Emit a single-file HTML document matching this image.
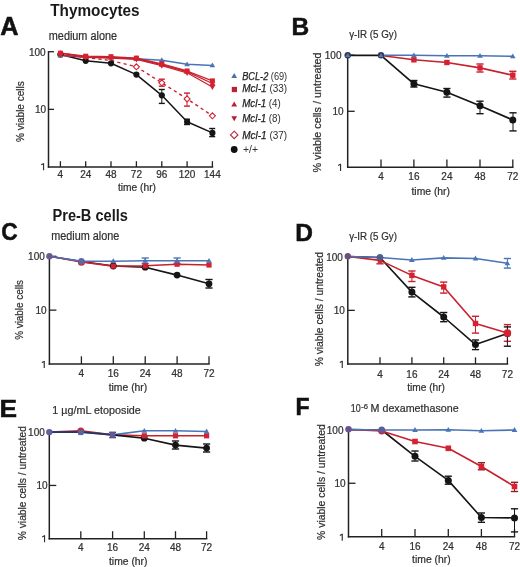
<!DOCTYPE html>
<html><head><meta charset="utf-8"><style>
html,body{margin:0;padding:0;background:#fff;}
svg{display:block;will-change:transform;font-family:"Liberation Sans", sans-serif;}
text.s{stroke:#303030;stroke-width:0.22px;}
</style></head><body>
<svg width="520" height="567" viewBox="0 0 520 567">
<rect width="520" height="567" fill="#fff"/>
<text x="0.2" y="34.7" font-size="25.3" text-anchor="start" font-weight="bold" font-style="normal" fill="#111" stroke="#111" stroke-width="0.5">A</text>
<text x="50.2" y="15.8" font-size="16" text-anchor="start" font-weight="bold" font-style="normal" fill="#1a1a1a" textLength="89.4" lengthAdjust="spacingAndGlyphs">Thymocytes</text>
<text class="s" x="48.8" y="39.9" font-size="12" text-anchor="start" font-weight="normal" font-style="normal" fill="#303030" textLength="68.2" lengthAdjust="spacingAndGlyphs">medium alone</text>
<text x="291.4" y="34.6" font-size="24.5" text-anchor="start" font-weight="bold" font-style="normal" fill="#111" stroke="#111" stroke-width="0.5">B</text>
<text class="s" x="349.2" y="37.7" font-size="10.5" text-anchor="start" font-weight="normal" font-style="normal" fill="#303030" textLength="47.7" lengthAdjust="spacingAndGlyphs">γ-IR (5 Gy)</text>
<text x="0" y="0" font-size="24.5" text-anchor="start" font-weight="bold" font-style="normal" fill="#111" stroke="#111" stroke-width="0.5" transform="translate(1.2,240.0) scale(0.93,1)">C</text>
<text x="52.5" y="221" font-size="16" text-anchor="start" font-weight="bold" font-style="normal" fill="#1a1a1a" textLength="75.4" lengthAdjust="spacingAndGlyphs">Pre-B cells</text>
<text class="s" x="51.2" y="240.4" font-size="12" text-anchor="start" font-weight="normal" font-style="normal" fill="#303030" textLength="68.1" lengthAdjust="spacingAndGlyphs">medium alone</text>
<text x="295.2" y="240.6" font-size="24.5" text-anchor="start" font-weight="bold" font-style="normal" fill="#111" stroke="#111" stroke-width="0.5">D</text>
<text class="s" x="349.2" y="239.6" font-size="10.5" text-anchor="start" font-weight="normal" font-style="normal" fill="#303030" textLength="47.7" lengthAdjust="spacingAndGlyphs">γ-IR (5 Gy)</text>
<text x="0" y="0" font-size="23.5" text-anchor="start" font-weight="bold" font-style="normal" fill="#111" stroke="#111" stroke-width="0.5" transform="translate(-0.6,416.6) scale(1.12,1)">E</text>
<text class="s" x="52.3" y="414" font-size="10.5" text-anchor="start" font-weight="normal" font-style="normal" fill="#303030" textLength="88.5" lengthAdjust="spacingAndGlyphs">1 µg/mL etoposide</text>
<text x="295.5" y="414.9" font-size="23" text-anchor="start" font-weight="bold" font-style="normal" fill="#111" stroke="#111" stroke-width="0.5">F</text>
<text class="s" x="350.8" y="412.3" font-size="10.5" text-anchor="start" font-weight="normal" font-style="normal" fill="#303030" textLength="9.9" lengthAdjust="spacingAndGlyphs">10</text>
<text class="s" x="361.2" y="408.5" font-size="8" text-anchor="start" font-weight="normal" font-style="normal" fill="#303030" textLength="6.8" lengthAdjust="spacingAndGlyphs">-6</text>
<text class="s" x="370.6" y="412.3" font-size="10.5" text-anchor="start" font-weight="normal" font-style="normal" fill="#303030" textLength="88" lengthAdjust="spacingAndGlyphs">M dexamethasone</text>
<line x1="48.50" y1="51.00" x2="48.50" y2="167.70" stroke="#222" stroke-width="1.5"/>
<line x1="47.80" y1="167.00" x2="213.20" y2="167.00" stroke="#222" stroke-width="1.5"/>
<line x1="48.50" y1="51.70" x2="54.00" y2="51.70" stroke="#222" stroke-width="1.3"/>
<line x1="48.50" y1="109.35" x2="54.00" y2="109.35" stroke="#222" stroke-width="1.3"/>
<line x1="60.40" y1="161.20" x2="60.40" y2="167.00" stroke="#222" stroke-width="1.3"/>
<line x1="85.70" y1="161.20" x2="85.70" y2="167.00" stroke="#222" stroke-width="1.3"/>
<line x1="111.00" y1="161.20" x2="111.00" y2="167.00" stroke="#222" stroke-width="1.3"/>
<line x1="136.40" y1="161.20" x2="136.40" y2="167.00" stroke="#222" stroke-width="1.3"/>
<line x1="161.80" y1="161.20" x2="161.80" y2="167.00" stroke="#222" stroke-width="1.3"/>
<line x1="187.10" y1="161.20" x2="187.10" y2="167.00" stroke="#222" stroke-width="1.3"/>
<line x1="212.40" y1="161.20" x2="212.40" y2="167.00" stroke="#222" stroke-width="1.3"/>
<text class="s" x="60.4" y="177.5" font-size="10" text-anchor="middle" font-weight="normal" font-style="normal" fill="#303030">4</text>
<text class="s" x="85.7" y="177.5" font-size="10" text-anchor="middle" font-weight="normal" font-style="normal" fill="#303030">24</text>
<text class="s" x="111.0" y="177.5" font-size="10" text-anchor="middle" font-weight="normal" font-style="normal" fill="#303030">48</text>
<text class="s" x="136.4" y="177.5" font-size="10" text-anchor="middle" font-weight="normal" font-style="normal" fill="#303030">72</text>
<text class="s" x="161.8" y="177.5" font-size="10" text-anchor="middle" font-weight="normal" font-style="normal" fill="#303030">96</text>
<text class="s" x="187.1" y="177.5" font-size="10" text-anchor="middle" font-weight="normal" font-style="normal" fill="#303030">120</text>
<text class="s" x="212.4" y="177.5" font-size="10" text-anchor="middle" font-weight="normal" font-style="normal" fill="#303030">144</text>
<text class="s" x="45.6" y="55.7" font-size="10" text-anchor="end" font-weight="normal" font-style="normal" fill="#303030">100</text>
<text class="s" x="46.0" y="113.35" font-size="10" text-anchor="end" font-weight="normal" font-style="normal" fill="#303030">10</text>
<path d="M43.55,163.20 L43.55,170.20 M43.85,163.40 L41.15,164.80" stroke="#303030" stroke-width="1.15" fill="none"/>
<text class="s" x="0" y="0" font-size="10" text-anchor="middle" font-weight="normal" font-style="normal" fill="#303030" textLength="60.8" lengthAdjust="spacingAndGlyphs" transform="translate(23.8,111.6) rotate(-90)">% viable cells</text>
<text class="s" x="117.9" y="190.7" font-size="10" text-anchor="start" font-weight="normal" font-style="normal" fill="#303030" textLength="38.1" lengthAdjust="spacingAndGlyphs">time (hr)</text>
<polyline points="60.4,54.5 85.7,60.8 111.0,63.3 136.4,74.6 161.8,95.3 187.1,121.8 212.4,132.9" fill="none" stroke="#151515" stroke-width="1.5" stroke-linejoin="round"/>
<polyline points="60.4,53.6 85.7,57.5 111.0,60.5 136.4,66.8 161.8,82.8 187.1,98.9 212.4,115.8" fill="none" stroke="#c8202e" stroke-width="1.4" stroke-linejoin="round" stroke-dasharray="3.2,3.2"/>
<polyline points="60.4,55.6 85.7,57.0 111.0,57.5 136.4,58.7 161.8,60.2 187.1,64.3 212.4,65.4" fill="none" stroke="#4a74b6" stroke-width="1.5" stroke-linejoin="round"/>
<polyline points="60.4,53.2 85.7,56.2 111.0,56.7 136.4,58.1 161.8,63.8 187.1,71.0 212.4,80.9" fill="none" stroke="#c8202e" stroke-width="1.3" stroke-linejoin="round"/>
<polyline points="60.4,53.0 85.7,56.8 111.0,57.3 136.4,58.7 161.8,64.7 187.1,71.7 212.4,83.5" fill="none" stroke="#c8202e" stroke-width="1.3" stroke-linejoin="round"/>
<polyline points="60.4,55.0 85.7,57.4 111.0,58.0 136.4,59.3 161.8,65.6 187.1,72.8 212.4,87.0" fill="none" stroke="#c8202e" stroke-width="1.3" stroke-linejoin="round"/>
<line x1="161.80" y1="89.50" x2="161.80" y2="103.40" stroke="#151515" stroke-width="1.0"/>
<line x1="158.80" y1="89.50" x2="164.80" y2="89.50" stroke="#151515" stroke-width="1.4"/>
<line x1="158.80" y1="103.40" x2="164.80" y2="103.40" stroke="#151515" stroke-width="1.4"/>
<line x1="187.00" y1="119.20" x2="187.00" y2="124.50" stroke="#151515" stroke-width="1.0"/>
<line x1="184.00" y1="119.20" x2="190.00" y2="119.20" stroke="#151515" stroke-width="1.4"/>
<line x1="184.00" y1="124.50" x2="190.00" y2="124.50" stroke="#151515" stroke-width="1.4"/>
<line x1="212.20" y1="128.50" x2="212.20" y2="136.60" stroke="#151515" stroke-width="1.0"/>
<line x1="209.20" y1="128.50" x2="215.20" y2="128.50" stroke="#151515" stroke-width="1.4"/>
<line x1="209.20" y1="136.60" x2="215.20" y2="136.60" stroke="#151515" stroke-width="1.4"/>
<line x1="161.80" y1="79.20" x2="161.80" y2="86.20" stroke="#c8202e" stroke-width="1.0"/>
<line x1="158.80" y1="79.20" x2="164.80" y2="79.20" stroke="#c8202e" stroke-width="1.4"/>
<line x1="158.80" y1="86.20" x2="164.80" y2="86.20" stroke="#c8202e" stroke-width="1.4"/>
<line x1="187.00" y1="93.10" x2="187.00" y2="106.10" stroke="#c8202e" stroke-width="1.0"/>
<line x1="184.00" y1="93.10" x2="190.00" y2="93.10" stroke="#c8202e" stroke-width="1.4"/>
<line x1="184.00" y1="106.10" x2="190.00" y2="106.10" stroke="#c8202e" stroke-width="1.4"/>
<polygon points="136.4,63.8 139.4,66.8 136.4,69.8 133.4,66.8" fill="#fff" stroke="#d62130" stroke-width="1.1"/>
<polygon points="161.8,79.8 164.8,82.8 161.8,85.8 158.8,82.8" fill="#fff" stroke="#d62130" stroke-width="1.1"/>
<polygon points="187.1,95.9 190.1,98.9 187.1,101.9 184.1,98.9" fill="#fff" stroke="#d62130" stroke-width="1.1"/>
<polygon points="212.4,112.8 215.4,115.8 212.4,118.8 209.4,115.8" fill="#fff" stroke="#d62130" stroke-width="1.1"/>
<circle cx="60.4" cy="54.5" r="3.1" fill="#151515"/>
<circle cx="85.7" cy="60.8" r="3.1" fill="#151515"/>
<circle cx="111.0" cy="63.3" r="3.1" fill="#151515"/>
<circle cx="136.4" cy="74.6" r="3.1" fill="#151515"/>
<circle cx="161.8" cy="95.3" r="3.1" fill="#151515"/>
<circle cx="187.1" cy="121.8" r="3.1" fill="#151515"/>
<circle cx="212.4" cy="132.9" r="3.1" fill="#151515"/>
<polygon points="60.4,52.7 57.6,57.5 63.2,57.5" fill="#4874b8"/>
<polygon points="85.7,54.1 82.9,58.9 88.5,58.9" fill="#4874b8"/>
<polygon points="111.0,54.6 108.2,59.4 113.8,59.4" fill="#4874b8"/>
<polygon points="136.4,55.8 133.6,60.6 139.2,60.6" fill="#4874b8"/>
<polygon points="161.8,57.3 159.0,62.1 164.6,62.1" fill="#4874b8"/>
<polygon points="187.1,61.4 184.3,66.2 189.9,66.2" fill="#4874b8"/>
<polygon points="212.4,62.5 209.6,67.3 215.2,67.3" fill="#4874b8"/>
<rect x="57.9" y="50.7" width="5.0" height="5.0" fill="#d62130"/>
<rect x="83.2" y="53.7" width="5.0" height="5.0" fill="#d62130"/>
<rect x="108.5" y="54.2" width="5.0" height="5.0" fill="#d62130"/>
<rect x="133.9" y="55.6" width="5.0" height="5.0" fill="#d62130"/>
<rect x="159.3" y="61.3" width="5.0" height="5.0" fill="#d62130"/>
<rect x="184.6" y="68.5" width="5.0" height="5.0" fill="#d62130"/>
<rect x="209.9" y="78.4" width="5.0" height="5.0" fill="#d62130"/>
<polygon points="60.4,49.9 57.4,55.1 63.4,55.1" fill="#d62130"/>
<polygon points="85.7,53.7 82.7,58.9 88.7,58.9" fill="#d62130"/>
<polygon points="111.0,54.2 108.0,59.4 114.0,59.4" fill="#d62130"/>
<polygon points="136.4,55.6 133.4,60.8 139.4,60.8" fill="#d62130"/>
<polygon points="161.8,61.6 158.8,66.8 164.8,66.8" fill="#d62130"/>
<polygon points="187.1,68.6 184.1,73.8 190.1,73.8" fill="#d62130"/>
<polygon points="212.4,80.4 209.4,85.6 215.4,85.6" fill="#d62130"/>
<polygon points="60.4,58.1 57.4,52.9 63.4,52.9" fill="#d62130"/>
<polygon points="85.7,60.5 82.7,55.3 88.7,55.3" fill="#d62130"/>
<polygon points="111.0,61.1 108.0,55.9 114.0,55.9" fill="#d62130"/>
<polygon points="136.4,62.4 133.4,57.2 139.4,57.2" fill="#d62130"/>
<polygon points="161.8,68.7 158.8,63.5 164.8,63.5" fill="#d62130"/>
<polygon points="187.1,75.9 184.1,70.7 190.1,70.7" fill="#d62130"/>
<polygon points="212.4,90.1 209.4,84.9 215.4,84.9" fill="#d62130"/>
<polygon points="234.2,72.9 231.3,77.9 237.1,77.9" fill="#4d6fab"/>
<rect x="231.8" y="86.9" width="5.2" height="5.2" fill="#be1f33"/>
<polygon points="234.2,101.4 231.3,106.4 237.1,106.4" fill="#be1f33"/>
<polygon points="234.2,121.2 231.3,116.2 237.1,116.2" fill="#b51f35"/>
<polygon points="234.2,131.2 237.9,134.9 234.2,138.6 230.5,134.9" fill="#fff" stroke="#b0283e" stroke-width="1.1"/>
<circle cx="234.2" cy="149.5" r="3.4" fill="#111"/>
<text x="242.2" y="79.8" font-size="10.3" fill="#303030" textLength="45" lengthAdjust="spacingAndGlyphs"><tspan font-style="italic" fill="#1c1c1c" stroke="#1c1c1c" stroke-width="0.25">BCL-2</tspan> (69)</text>
<text x="242.2" y="92.3" font-size="10.3" fill="#303030" textLength="45" lengthAdjust="spacingAndGlyphs"><tspan font-style="italic" fill="#1c1c1c" stroke="#1c1c1c" stroke-width="0.25">Mcl-1</tspan> (33)</text>
<text x="242.2" y="106.8" font-size="10.3" fill="#303030" textLength="38.6" lengthAdjust="spacingAndGlyphs"><tspan font-style="italic" fill="#1c1c1c" stroke="#1c1c1c" stroke-width="0.25">Mcl-1</tspan> (4)</text>
<text x="242.2" y="121.7" font-size="10.3" fill="#303030" textLength="38.6" lengthAdjust="spacingAndGlyphs"><tspan font-style="italic" fill="#1c1c1c" stroke="#1c1c1c" stroke-width="0.25">Mcl-1</tspan> (8)</text>
<text x="242.2" y="138.5" font-size="10.3" fill="#303030" textLength="45" lengthAdjust="spacingAndGlyphs"><tspan font-style="italic" fill="#1c1c1c" stroke="#1c1c1c" stroke-width="0.25">Mcl-1</tspan> (37)</text>
<text x="243" y="153.1" font-size="10.3" fill="#303030" textLength="15" lengthAdjust="spacingAndGlyphs">+/+</text>
<line x1="347.70" y1="54.60" x2="347.70" y2="168.00" stroke="#222" stroke-width="1.5"/>
<line x1="347.00" y1="167.30" x2="513.50" y2="167.30" stroke="#222" stroke-width="1.5"/>
<line x1="347.70" y1="55.30" x2="354.70" y2="55.30" stroke="#222" stroke-width="1.3"/>
<line x1="347.70" y1="111.30" x2="354.70" y2="111.30" stroke="#222" stroke-width="1.3"/>
<line x1="381.00" y1="159.40" x2="381.00" y2="167.30" stroke="#222" stroke-width="1.3"/>
<line x1="413.90" y1="159.40" x2="413.90" y2="167.30" stroke="#222" stroke-width="1.3"/>
<line x1="446.90" y1="159.40" x2="446.90" y2="167.30" stroke="#222" stroke-width="1.3"/>
<line x1="480.00" y1="159.40" x2="480.00" y2="167.30" stroke="#222" stroke-width="1.3"/>
<line x1="512.80" y1="159.40" x2="512.80" y2="167.30" stroke="#222" stroke-width="1.3"/>
<text class="s" x="381.0" y="180.3" font-size="10" text-anchor="middle" font-weight="normal" font-style="normal" fill="#303030">4</text>
<text class="s" x="413.9" y="180.3" font-size="10" text-anchor="middle" font-weight="normal" font-style="normal" fill="#303030">16</text>
<text class="s" x="446.9" y="180.3" font-size="10" text-anchor="middle" font-weight="normal" font-style="normal" fill="#303030">24</text>
<text class="s" x="480.0" y="180.3" font-size="10" text-anchor="middle" font-weight="normal" font-style="normal" fill="#303030">48</text>
<text class="s" x="512.8" y="180.3" font-size="10" text-anchor="middle" font-weight="normal" font-style="normal" fill="#303030">72</text>
<text class="s" x="341.5" y="59.3" font-size="10" text-anchor="end" font-weight="normal" font-style="normal" fill="#303030">100</text>
<text class="s" x="343.7" y="115.30000000000001" font-size="10" text-anchor="end" font-weight="normal" font-style="normal" fill="#303030">10</text>
<path d="M340.55,163.90 L340.55,170.90 M340.85,164.10 L338.15,165.50" stroke="#303030" stroke-width="1.15" fill="none"/>
<text class="s" x="0" y="0" font-size="11" text-anchor="middle" font-weight="normal" font-style="normal" fill="#303030" textLength="120.0" lengthAdjust="spacingAndGlyphs" transform="translate(320.5,112.5) rotate(-90)">% viable cells / untreated</text>
<text class="s" x="411.5" y="195.0" font-size="10.3" text-anchor="start" font-weight="normal" font-style="normal" fill="#303030" textLength="38.5" lengthAdjust="spacingAndGlyphs">time (hr)</text>
<polyline points="381.0,55.5 413.9,59.8 446.9,62.5 480.0,67.9 512.8,75.2" fill="none" stroke="#c8202e" stroke-width="1.6" stroke-linejoin="round"/>
<polyline points="381.0,55.3 413.9,55.3 446.9,55.8 480.0,55.8 512.8,56.3" fill="none" stroke="#4a74b6" stroke-width="1.6" stroke-linejoin="round"/>
<polyline points="347.7,55.3 381.0,55.3 413.9,83.8 446.9,92.3 480.0,105.8 512.8,120.0" fill="none" stroke="#151515" stroke-width="1.7" stroke-linejoin="round"/>
<line x1="413.90" y1="80.50" x2="413.90" y2="87.00" stroke="#151515" stroke-width="1.0"/>
<line x1="410.30" y1="80.50" x2="417.50" y2="80.50" stroke="#151515" stroke-width="1.4"/>
<line x1="410.30" y1="87.00" x2="417.50" y2="87.00" stroke="#151515" stroke-width="1.4"/>
<line x1="446.90" y1="88.50" x2="446.90" y2="97.10" stroke="#151515" stroke-width="1.0"/>
<line x1="443.30" y1="88.50" x2="450.50" y2="88.50" stroke="#151515" stroke-width="1.4"/>
<line x1="443.30" y1="97.10" x2="450.50" y2="97.10" stroke="#151515" stroke-width="1.4"/>
<line x1="480.00" y1="101.20" x2="480.00" y2="113.70" stroke="#151515" stroke-width="1.0"/>
<line x1="476.40" y1="101.20" x2="483.60" y2="101.20" stroke="#151515" stroke-width="1.4"/>
<line x1="476.40" y1="113.70" x2="483.60" y2="113.70" stroke="#151515" stroke-width="1.4"/>
<line x1="513.00" y1="112.80" x2="513.00" y2="130.90" stroke="#151515" stroke-width="1.0"/>
<line x1="509.40" y1="112.80" x2="516.60" y2="112.80" stroke="#151515" stroke-width="1.4"/>
<line x1="509.40" y1="130.90" x2="516.60" y2="130.90" stroke="#151515" stroke-width="1.4"/>
<line x1="480.00" y1="64.00" x2="480.00" y2="72.00" stroke="#c8202e" stroke-width="1.0"/>
<line x1="476.40" y1="64.00" x2="483.60" y2="64.00" stroke="#c8202e" stroke-width="1.4"/>
<line x1="476.40" y1="72.00" x2="483.60" y2="72.00" stroke="#c8202e" stroke-width="1.4"/>
<line x1="512.80" y1="71.30" x2="512.80" y2="79.00" stroke="#c8202e" stroke-width="1.0"/>
<line x1="509.20" y1="71.30" x2="516.40" y2="71.30" stroke="#c8202e" stroke-width="1.4"/>
<line x1="509.20" y1="79.00" x2="516.40" y2="79.00" stroke="#c8202e" stroke-width="1.4"/>
<circle cx="413.9" cy="83.8" r="3.5" fill="#151515"/>
<circle cx="446.9" cy="92.3" r="3.5" fill="#151515"/>
<circle cx="480.0" cy="105.8" r="3.5" fill="#151515"/>
<circle cx="512.8" cy="120.0" r="3.5" fill="#151515"/>
<rect x="411.2" y="57.1" width="5.4" height="5.4" fill="#d62130"/>
<rect x="444.2" y="59.8" width="5.4" height="5.4" fill="#d62130"/>
<rect x="477.3" y="65.2" width="5.4" height="5.4" fill="#d62130"/>
<rect x="510.1" y="72.5" width="5.4" height="5.4" fill="#d62130"/>
<polygon points="413.9,52.4 411.1,57.2 416.7,57.2" fill="#4874b8"/>
<polygon points="446.9,52.9 444.1,57.7 449.7,57.7" fill="#4874b8"/>
<polygon points="480.0,52.9 477.2,57.7 482.8,57.7" fill="#4874b8"/>
<polygon points="512.8,53.4 510.0,58.2 515.6,58.2" fill="#4874b8"/>
<circle cx="347.7" cy="55.3" r="3.2" fill="#2f3a5e"/>
<polygon points="347.7,52.9 345.4,56.9 350.0,56.9" fill="#5a78b0"/>
<circle cx="381.0" cy="55.3" r="3.2" fill="#2f3a5e"/>
<polygon points="381.0,52.9 378.7,56.9 383.3,56.9" fill="#5a78b0"/>
<line x1="49.40" y1="255.60" x2="49.40" y2="364.70" stroke="#222" stroke-width="1.5"/>
<line x1="48.70" y1="364.00" x2="209.70" y2="364.00" stroke="#222" stroke-width="1.5"/>
<line x1="49.40" y1="256.30" x2="56.40" y2="256.30" stroke="#222" stroke-width="1.3"/>
<line x1="49.40" y1="310.15" x2="56.40" y2="310.15" stroke="#222" stroke-width="1.3"/>
<line x1="81.40" y1="356.30" x2="81.40" y2="364.00" stroke="#222" stroke-width="1.3"/>
<line x1="113.30" y1="356.30" x2="113.30" y2="364.00" stroke="#222" stroke-width="1.3"/>
<line x1="145.20" y1="356.30" x2="145.20" y2="364.00" stroke="#222" stroke-width="1.3"/>
<line x1="177.10" y1="356.30" x2="177.10" y2="364.00" stroke="#222" stroke-width="1.3"/>
<line x1="209.00" y1="356.30" x2="209.00" y2="364.00" stroke="#222" stroke-width="1.3"/>
<text class="s" x="81.4" y="377.0" font-size="10" text-anchor="middle" font-weight="normal" font-style="normal" fill="#303030">4</text>
<text class="s" x="113.3" y="377.0" font-size="10" text-anchor="middle" font-weight="normal" font-style="normal" fill="#303030">16</text>
<text class="s" x="145.2" y="377.0" font-size="10" text-anchor="middle" font-weight="normal" font-style="normal" fill="#303030">24</text>
<text class="s" x="177.1" y="377.0" font-size="10" text-anchor="middle" font-weight="normal" font-style="normal" fill="#303030">48</text>
<text class="s" x="209.0" y="377.0" font-size="10" text-anchor="middle" font-weight="normal" font-style="normal" fill="#303030">72</text>
<text class="s" x="44.8" y="260.3" font-size="10" text-anchor="end" font-weight="normal" font-style="normal" fill="#303030">100</text>
<text class="s" x="46.6" y="314.15" font-size="10" text-anchor="end" font-weight="normal" font-style="normal" fill="#303030">10</text>
<path d="M44.25,361.00 L44.25,368.00 M44.55,361.20 L41.85,362.60" stroke="#303030" stroke-width="1.15" fill="none"/>
<text class="s" x="0" y="0" font-size="10" text-anchor="middle" font-weight="normal" font-style="normal" fill="#303030" textLength="59.9" lengthAdjust="spacingAndGlyphs" transform="translate(22.8,309.9) rotate(-90)">% viable cells</text>
<text class="s" x="108.7" y="390.5" font-size="10" text-anchor="start" font-weight="normal" font-style="normal" fill="#303030" textLength="38.6" lengthAdjust="spacingAndGlyphs">time (hr)</text>
<polyline points="49.4,256.3 81.4,261.5 113.3,266.0 145.2,267.2 177.1,275.1 209.0,283.8" fill="none" stroke="#151515" stroke-width="1.6" stroke-linejoin="round"/>
<polyline points="49.4,256.3 81.4,262.0 113.3,266.1 145.2,265.8 177.1,264.2 209.0,265.0" fill="none" stroke="#c8202e" stroke-width="1.6" stroke-linejoin="round"/>
<polyline points="49.4,256.3 81.4,261.2 113.3,261.2 145.2,260.8 177.1,260.8 209.0,260.8" fill="none" stroke="#4a74b6" stroke-width="1.6" stroke-linejoin="round"/>
<line x1="145.20" y1="258.00" x2="145.20" y2="263.50" stroke="#4a74b6" stroke-width="1.0"/>
<line x1="141.60" y1="258.00" x2="148.80" y2="258.00" stroke="#4a74b6" stroke-width="1.4"/>
<line x1="141.60" y1="263.50" x2="148.80" y2="263.50" stroke="#4a74b6" stroke-width="1.4"/>
<line x1="177.10" y1="258.00" x2="177.10" y2="263.50" stroke="#4a74b6" stroke-width="1.0"/>
<line x1="173.50" y1="258.00" x2="180.70" y2="258.00" stroke="#4a74b6" stroke-width="1.4"/>
<line x1="173.50" y1="263.50" x2="180.70" y2="263.50" stroke="#4a74b6" stroke-width="1.4"/>
<line x1="209.00" y1="279.50" x2="209.00" y2="288.00" stroke="#151515" stroke-width="1.0"/>
<line x1="205.40" y1="279.50" x2="212.60" y2="279.50" stroke="#151515" stroke-width="1.4"/>
<line x1="205.40" y1="288.00" x2="212.60" y2="288.00" stroke="#151515" stroke-width="1.4"/>
<circle cx="113.3" cy="266.0" r="3.4" fill="#151515"/>
<circle cx="145.2" cy="267.2" r="3.4" fill="#151515"/>
<circle cx="177.1" cy="275.1" r="3.4" fill="#151515"/>
<circle cx="209.0" cy="283.8" r="3.4" fill="#151515"/>
<rect x="110.7" y="263.5" width="5.2" height="5.2" fill="#d62130"/>
<rect x="142.6" y="263.2" width="5.2" height="5.2" fill="#d62130"/>
<rect x="174.5" y="261.6" width="5.2" height="5.2" fill="#d62130"/>
<rect x="206.4" y="262.4" width="5.2" height="5.2" fill="#d62130"/>
<polygon points="113.3,258.3 110.5,263.1 116.1,263.1" fill="#4874b8"/>
<polygon points="145.2,257.9 142.4,262.7 148.0,262.7" fill="#4874b8"/>
<polygon points="177.1,257.9 174.3,262.7 179.9,262.7" fill="#4874b8"/>
<polygon points="209.0,257.9 206.2,262.7 211.8,262.7" fill="#4874b8"/>
<circle cx="49.4" cy="256.3" r="3.2" fill="#6c5890"/>
<circle cx="81.4" cy="262.3" r="3.5" fill="#c42a3a"/>
<circle cx="81.4" cy="261.3" r="3.2" fill="#5b6aa6"/>
<line x1="347.80" y1="255.90" x2="347.80" y2="364.80" stroke="#222" stroke-width="1.5"/>
<line x1="347.10" y1="364.10" x2="508.20" y2="364.10" stroke="#222" stroke-width="1.5"/>
<line x1="347.80" y1="256.60" x2="354.80" y2="256.60" stroke="#222" stroke-width="1.3"/>
<line x1="347.80" y1="310.35" x2="354.80" y2="310.35" stroke="#222" stroke-width="1.3"/>
<line x1="380.00" y1="357.30" x2="380.00" y2="364.10" stroke="#222" stroke-width="1.3"/>
<line x1="411.90" y1="357.30" x2="411.90" y2="364.10" stroke="#222" stroke-width="1.3"/>
<line x1="443.70" y1="357.30" x2="443.70" y2="364.10" stroke="#222" stroke-width="1.3"/>
<line x1="475.50" y1="357.30" x2="475.50" y2="364.10" stroke="#222" stroke-width="1.3"/>
<line x1="507.40" y1="357.30" x2="507.40" y2="364.10" stroke="#222" stroke-width="1.3"/>
<text class="s" x="380.0" y="377.5" font-size="10" text-anchor="middle" font-weight="normal" font-style="normal" fill="#303030">4</text>
<text class="s" x="411.9" y="377.5" font-size="10" text-anchor="middle" font-weight="normal" font-style="normal" fill="#303030">16</text>
<text class="s" x="443.7" y="377.5" font-size="10" text-anchor="middle" font-weight="normal" font-style="normal" fill="#303030">24</text>
<text class="s" x="475.5" y="377.5" font-size="10" text-anchor="middle" font-weight="normal" font-style="normal" fill="#303030">48</text>
<text class="s" x="507.4" y="377.5" font-size="10" text-anchor="middle" font-weight="normal" font-style="normal" fill="#303030">72</text>
<text class="s" x="342.9" y="260.6" font-size="10" text-anchor="end" font-weight="normal" font-style="normal" fill="#303030">100</text>
<text class="s" x="344.9" y="314.35" font-size="10" text-anchor="end" font-weight="normal" font-style="normal" fill="#303030">10</text>
<path d="M342.25,360.90 L342.25,367.90 M342.55,361.10 L339.85,362.50" stroke="#303030" stroke-width="1.15" fill="none"/>
<text class="s" x="0" y="0" font-size="10.5" text-anchor="middle" font-weight="normal" font-style="normal" fill="#303030" textLength="114.3" lengthAdjust="spacingAndGlyphs" transform="translate(322.5,309.2) rotate(-90)">% viable cells / untreated</text>
<text class="s" x="407.2" y="390.9" font-size="10" text-anchor="start" font-weight="normal" font-style="normal" fill="#303030" textLength="37.8" lengthAdjust="spacingAndGlyphs">time (hr)</text>
<polyline points="347.8,256.5 380.0,257.5 411.9,292.1 443.7,317.0 475.5,344.6 507.4,333.5" fill="none" stroke="#151515" stroke-width="1.6" stroke-linejoin="round"/>
<polyline points="347.8,256.5 380.0,260.4 411.9,275.4 443.7,286.9 475.5,323.5 507.4,333.1" fill="none" stroke="#c8202e" stroke-width="1.6" stroke-linejoin="round"/>
<polyline points="347.8,256.5 380.0,257.5 411.9,260.0 443.7,257.9 475.5,258.5 507.4,263.3" fill="none" stroke="#4a74b6" stroke-width="1.6" stroke-linejoin="round"/>
<line x1="380.00" y1="257.50" x2="380.00" y2="263.80" stroke="#c8202e" stroke-width="1.0"/>
<line x1="376.40" y1="257.50" x2="383.60" y2="257.50" stroke="#c8202e" stroke-width="1.4"/>
<line x1="376.40" y1="263.80" x2="383.60" y2="263.80" stroke="#c8202e" stroke-width="1.4"/>
<line x1="411.90" y1="271.00" x2="411.90" y2="281.50" stroke="#c8202e" stroke-width="1.0"/>
<line x1="408.30" y1="271.00" x2="415.50" y2="271.00" stroke="#c8202e" stroke-width="1.4"/>
<line x1="408.30" y1="281.50" x2="415.50" y2="281.50" stroke="#c8202e" stroke-width="1.4"/>
<line x1="443.70" y1="282.10" x2="443.70" y2="293.10" stroke="#c8202e" stroke-width="1.0"/>
<line x1="440.10" y1="282.10" x2="447.30" y2="282.10" stroke="#c8202e" stroke-width="1.4"/>
<line x1="440.10" y1="293.10" x2="447.30" y2="293.10" stroke="#c8202e" stroke-width="1.4"/>
<line x1="475.50" y1="316.30" x2="475.50" y2="333.10" stroke="#c8202e" stroke-width="1.0"/>
<line x1="471.90" y1="316.30" x2="479.10" y2="316.30" stroke="#c8202e" stroke-width="1.4"/>
<line x1="471.90" y1="333.10" x2="479.10" y2="333.10" stroke="#c8202e" stroke-width="1.4"/>
<line x1="507.40" y1="324.60" x2="507.40" y2="341.30" stroke="#c8202e" stroke-width="1.0"/>
<line x1="503.80" y1="324.60" x2="511.00" y2="324.60" stroke="#c8202e" stroke-width="1.4"/>
<line x1="503.80" y1="341.30" x2="511.00" y2="341.30" stroke="#c8202e" stroke-width="1.4"/>
<line x1="411.90" y1="287.30" x2="411.90" y2="296.90" stroke="#151515" stroke-width="1.0"/>
<line x1="408.30" y1="287.30" x2="415.50" y2="287.30" stroke="#151515" stroke-width="1.4"/>
<line x1="408.30" y1="296.90" x2="415.50" y2="296.90" stroke="#151515" stroke-width="1.4"/>
<line x1="443.70" y1="312.50" x2="443.70" y2="321.70" stroke="#151515" stroke-width="1.0"/>
<line x1="440.10" y1="312.50" x2="447.30" y2="312.50" stroke="#151515" stroke-width="1.4"/>
<line x1="440.10" y1="321.70" x2="447.30" y2="321.70" stroke="#151515" stroke-width="1.4"/>
<line x1="475.50" y1="340.00" x2="475.50" y2="349.60" stroke="#151515" stroke-width="1.0"/>
<line x1="471.90" y1="340.00" x2="479.10" y2="340.00" stroke="#151515" stroke-width="1.4"/>
<line x1="471.90" y1="349.60" x2="479.10" y2="349.60" stroke="#151515" stroke-width="1.4"/>
<line x1="507.40" y1="326.90" x2="507.40" y2="346.20" stroke="#151515" stroke-width="1.0"/>
<line x1="503.80" y1="326.90" x2="511.00" y2="326.90" stroke="#151515" stroke-width="1.4"/>
<line x1="503.80" y1="346.20" x2="511.00" y2="346.20" stroke="#151515" stroke-width="1.4"/>
<line x1="507.40" y1="258.50" x2="507.40" y2="268.10" stroke="#4a74b6" stroke-width="1.0"/>
<line x1="503.80" y1="258.50" x2="511.00" y2="258.50" stroke="#4a74b6" stroke-width="1.4"/>
<line x1="503.80" y1="268.10" x2="511.00" y2="268.10" stroke="#4a74b6" stroke-width="1.4"/>
<circle cx="411.9" cy="292.1" r="3.5" fill="#151515"/>
<circle cx="443.7" cy="317.0" r="3.5" fill="#151515"/>
<circle cx="475.5" cy="344.6" r="3.5" fill="#151515"/>
<circle cx="507.4" cy="333.5" r="3.5" fill="#151515"/>
<rect x="409.2" y="272.7" width="5.4" height="5.4" fill="#d62130"/>
<rect x="441.0" y="284.2" width="5.4" height="5.4" fill="#d62130"/>
<rect x="472.8" y="320.8" width="5.4" height="5.4" fill="#d62130"/>
<circle cx="507.4" cy="333.1" r="3.8" fill="#d62130"/>
<polygon points="411.9,257.1 409.1,261.9 414.7,261.9" fill="#4874b8"/>
<polygon points="443.7,255.0 440.9,259.8 446.5,259.8" fill="#4874b8"/>
<polygon points="475.5,255.6 472.7,260.4 478.3,260.4" fill="#4874b8"/>
<polygon points="507.4,260.4 504.6,265.2 510.2,265.2" fill="#4874b8"/>
<circle cx="347.8" cy="256.3" r="3.2" fill="#6a5080"/>
<rect x="377.7" y="258.3" width="4.6" height="4.6" fill="#d62130"/>
<circle cx="380.0" cy="257.2" r="3.2" fill="#4a5f92"/>
<line x1="49.30" y1="431.40" x2="49.30" y2="539.50" stroke="#222" stroke-width="1.5"/>
<line x1="48.60" y1="538.80" x2="207.30" y2="538.80" stroke="#222" stroke-width="1.5"/>
<line x1="49.30" y1="432.10" x2="56.30" y2="432.10" stroke="#222" stroke-width="1.3"/>
<line x1="49.30" y1="485.45" x2="56.30" y2="485.45" stroke="#222" stroke-width="1.3"/>
<line x1="80.80" y1="531.20" x2="80.80" y2="538.80" stroke="#222" stroke-width="1.3"/>
<line x1="112.60" y1="531.20" x2="112.60" y2="538.80" stroke="#222" stroke-width="1.3"/>
<line x1="144.30" y1="531.20" x2="144.30" y2="538.80" stroke="#222" stroke-width="1.3"/>
<line x1="175.50" y1="531.20" x2="175.50" y2="538.80" stroke="#222" stroke-width="1.3"/>
<line x1="206.60" y1="531.20" x2="206.60" y2="538.80" stroke="#222" stroke-width="1.3"/>
<text class="s" x="80.8" y="551.4" font-size="10" text-anchor="middle" font-weight="normal" font-style="normal" fill="#303030">4</text>
<text class="s" x="112.6" y="551.4" font-size="10" text-anchor="middle" font-weight="normal" font-style="normal" fill="#303030">16</text>
<text class="s" x="144.3" y="551.4" font-size="10" text-anchor="middle" font-weight="normal" font-style="normal" fill="#303030">24</text>
<text class="s" x="175.5" y="551.4" font-size="10" text-anchor="middle" font-weight="normal" font-style="normal" fill="#303030">48</text>
<text class="s" x="206.6" y="551.4" font-size="10" text-anchor="middle" font-weight="normal" font-style="normal" fill="#303030">72</text>
<text class="s" x="44.8" y="436.1" font-size="10" text-anchor="end" font-weight="normal" font-style="normal" fill="#303030">100</text>
<text class="s" x="47.5" y="489.45" font-size="10" text-anchor="end" font-weight="normal" font-style="normal" fill="#303030">10</text>
<path d="M44.55,535.30 L44.55,542.30 M44.85,535.50 L42.15,536.90" stroke="#303030" stroke-width="1.15" fill="none"/>
<text class="s" x="0" y="0" font-size="10.5" text-anchor="middle" font-weight="normal" font-style="normal" fill="#303030" textLength="114.1" lengthAdjust="spacingAndGlyphs" transform="translate(25.5,483.2) rotate(-90)">% viable cells / untreated</text>
<text class="s" x="109.0" y="565.0" font-size="10" text-anchor="start" font-weight="normal" font-style="normal" fill="#303030" textLength="38.5" lengthAdjust="spacingAndGlyphs">time (hr)</text>
<polyline points="49.3,432.1 80.8,430.8 112.6,434.9 144.3,435.8 175.5,435.8 206.6,435.8" fill="none" stroke="#c8202e" stroke-width="1.6" stroke-linejoin="round"/>
<polyline points="49.3,432.1 80.8,432.0 112.6,434.9 144.3,430.8 175.5,430.8 206.6,431.5" fill="none" stroke="#4a74b6" stroke-width="1.6" stroke-linejoin="round"/>
<polyline points="49.3,432.1 80.8,432.0 112.6,434.9" fill="none" stroke="#2a3560" stroke-width="1.8" stroke-linejoin="round"/>
<polyline points="112.6,434.9 144.3,438.2 175.5,445.1 206.6,448.1" fill="none" stroke="#151515" stroke-width="1.6" stroke-linejoin="round"/>
<line x1="175.50" y1="441.00" x2="175.50" y2="449.00" stroke="#151515" stroke-width="1.0"/>
<line x1="171.90" y1="441.00" x2="179.10" y2="441.00" stroke="#151515" stroke-width="1.4"/>
<line x1="171.90" y1="449.00" x2="179.10" y2="449.00" stroke="#151515" stroke-width="1.4"/>
<line x1="206.60" y1="444.00" x2="206.60" y2="452.00" stroke="#151515" stroke-width="1.0"/>
<line x1="203.00" y1="444.00" x2="210.20" y2="444.00" stroke="#151515" stroke-width="1.4"/>
<line x1="203.00" y1="452.00" x2="210.20" y2="452.00" stroke="#151515" stroke-width="1.4"/>
<circle cx="144.3" cy="438.2" r="3.4" fill="#151515"/>
<circle cx="175.5" cy="445.1" r="3.4" fill="#151515"/>
<circle cx="206.6" cy="448.1" r="3.4" fill="#151515"/>
<rect x="141.7" y="433.2" width="5.2" height="5.2" fill="#d62130"/>
<rect x="172.9" y="433.2" width="5.2" height="5.2" fill="#d62130"/>
<rect x="204.0" y="433.2" width="5.2" height="5.2" fill="#d62130"/>
<polygon points="144.3,427.9 141.5,432.7 147.1,432.7" fill="#4874b8"/>
<polygon points="175.5,427.9 172.7,432.7 178.3,432.7" fill="#4874b8"/>
<polygon points="206.6,428.6 203.8,433.4 209.4,433.4" fill="#4874b8"/>
<circle cx="49.3" cy="432.1" r="3.2" fill="#7a4f86"/>
<circle cx="49.3" cy="432.1" r="2.4" fill="#5a64a8"/>
<circle cx="80.8" cy="430.9" r="3.5" fill="#c0303e"/>
<rect x="78.3" y="430.1" width="5" height="5" fill="#4a6ab0"/>
<line x1="112.60" y1="432.30" x2="112.60" y2="437.60" stroke="#5a3a6a" stroke-width="1.0"/>
<line x1="109.20" y1="432.30" x2="116.00" y2="432.30" stroke="#5a3a6a" stroke-width="1.4"/>
<line x1="109.20" y1="437.60" x2="116.00" y2="437.60" stroke="#5a3a6a" stroke-width="1.4"/>
<rect x="109.9" y="432.2" width="5.4" height="5.4" fill="#5e5a9c"/>
<line x1="348.50" y1="429.00" x2="348.50" y2="537.50" stroke="#222" stroke-width="1.5"/>
<line x1="347.80" y1="536.80" x2="515.20" y2="536.80" stroke="#222" stroke-width="1.5"/>
<line x1="348.50" y1="429.70" x2="355.50" y2="429.70" stroke="#222" stroke-width="1.3"/>
<line x1="348.50" y1="483.25" x2="355.50" y2="483.25" stroke="#222" stroke-width="1.3"/>
<line x1="381.70" y1="529.00" x2="381.70" y2="536.80" stroke="#222" stroke-width="1.3"/>
<line x1="415.00" y1="529.00" x2="415.00" y2="536.80" stroke="#222" stroke-width="1.3"/>
<line x1="448.30" y1="529.00" x2="448.30" y2="536.80" stroke="#222" stroke-width="1.3"/>
<line x1="481.40" y1="529.00" x2="481.40" y2="536.80" stroke="#222" stroke-width="1.3"/>
<line x1="514.50" y1="529.00" x2="514.50" y2="536.80" stroke="#222" stroke-width="1.3"/>
<text class="s" x="381.7" y="549.6" font-size="10" text-anchor="middle" font-weight="normal" font-style="normal" fill="#303030">4</text>
<text class="s" x="415.0" y="549.6" font-size="10" text-anchor="middle" font-weight="normal" font-style="normal" fill="#303030">16</text>
<text class="s" x="448.3" y="549.6" font-size="10" text-anchor="middle" font-weight="normal" font-style="normal" fill="#303030">24</text>
<text class="s" x="481.4" y="549.6" font-size="10" text-anchor="middle" font-weight="normal" font-style="normal" fill="#303030">48</text>
<text class="s" x="514.5" y="549.6" font-size="10" text-anchor="middle" font-weight="normal" font-style="normal" fill="#303030">72</text>
<text class="s" x="343.5" y="433.7" font-size="10" text-anchor="end" font-weight="normal" font-style="normal" fill="#303030">100</text>
<text class="s" x="345.5" y="487.25" font-size="10" text-anchor="end" font-weight="normal" font-style="normal" fill="#303030">10</text>
<path d="M342.25,533.80 L342.25,540.80 M342.55,534.00 L339.85,535.40" stroke="#303030" stroke-width="1.15" fill="none"/>
<text class="s" x="0" y="0" font-size="10.5" text-anchor="middle" font-weight="normal" font-style="normal" fill="#303030" textLength="115.7" lengthAdjust="spacingAndGlyphs" transform="translate(325.0,482.1) rotate(-90)">% viable cells / untreated</text>
<text class="s" x="412.1" y="563.3" font-size="10" text-anchor="start" font-weight="normal" font-style="normal" fill="#303030" textLength="38.6" lengthAdjust="spacingAndGlyphs">time (hr)</text>
<polyline points="348.5,429.5 381.7,430.0 415.0,456.3 448.3,480.4 481.4,517.5 514.5,517.9" fill="none" stroke="#151515" stroke-width="1.6" stroke-linejoin="round"/>
<polyline points="348.5,429.5 381.7,431.0 415.0,441.5 448.3,448.3 481.4,466.5 514.5,486.5" fill="none" stroke="#c8202e" stroke-width="1.6" stroke-linejoin="round"/>
<polyline points="348.5,429.5 381.7,430.0 415.0,430.0 448.3,429.8 481.4,430.8 514.5,430.0" fill="none" stroke="#4a74b6" stroke-width="1.6" stroke-linejoin="round"/>
<line x1="415.00" y1="451.00" x2="415.00" y2="461.00" stroke="#151515" stroke-width="1.0"/>
<line x1="411.40" y1="451.00" x2="418.60" y2="451.00" stroke="#151515" stroke-width="1.4"/>
<line x1="411.40" y1="461.00" x2="418.60" y2="461.00" stroke="#151515" stroke-width="1.4"/>
<line x1="448.30" y1="476.20" x2="448.30" y2="484.20" stroke="#151515" stroke-width="1.0"/>
<line x1="444.70" y1="476.20" x2="451.90" y2="476.20" stroke="#151515" stroke-width="1.4"/>
<line x1="444.70" y1="484.20" x2="451.90" y2="484.20" stroke="#151515" stroke-width="1.4"/>
<line x1="481.40" y1="513.00" x2="481.40" y2="522.30" stroke="#151515" stroke-width="1.0"/>
<line x1="477.80" y1="513.00" x2="485.00" y2="513.00" stroke="#151515" stroke-width="1.4"/>
<line x1="477.80" y1="522.30" x2="485.00" y2="522.30" stroke="#151515" stroke-width="1.4"/>
<line x1="514.50" y1="508.80" x2="514.50" y2="531.90" stroke="#151515" stroke-width="1.0"/>
<line x1="510.90" y1="508.80" x2="518.10" y2="508.80" stroke="#151515" stroke-width="1.4"/>
<line x1="510.90" y1="531.90" x2="518.10" y2="531.90" stroke="#151515" stroke-width="1.4"/>
<line x1="481.40" y1="462.70" x2="481.40" y2="469.80" stroke="#8a1f28" stroke-width="1.0"/>
<line x1="477.80" y1="462.70" x2="485.00" y2="462.70" stroke="#8a1f28" stroke-width="1.4"/>
<line x1="477.80" y1="469.80" x2="485.00" y2="469.80" stroke="#8a1f28" stroke-width="1.4"/>
<line x1="514.50" y1="482.30" x2="514.50" y2="491.50" stroke="#8a1f28" stroke-width="1.0"/>
<line x1="510.90" y1="482.30" x2="518.10" y2="482.30" stroke="#8a1f28" stroke-width="1.4"/>
<line x1="510.90" y1="491.50" x2="518.10" y2="491.50" stroke="#8a1f28" stroke-width="1.4"/>
<circle cx="415.0" cy="456.3" r="3.5" fill="#151515"/>
<circle cx="448.3" cy="480.4" r="3.5" fill="#151515"/>
<circle cx="481.4" cy="517.5" r="3.5" fill="#151515"/>
<circle cx="514.5" cy="517.9" r="3.5" fill="#151515"/>
<rect x="412.2" y="438.7" width="5.6" height="5.6" fill="#d62130"/>
<rect x="445.5" y="445.5" width="5.6" height="5.6" fill="#d62130"/>
<rect x="478.6" y="463.7" width="5.6" height="5.6" fill="#d62130"/>
<rect x="511.7" y="483.7" width="5.6" height="5.6" fill="#d62130"/>
<polygon points="415.0,427.1 412.2,431.9 417.8,431.9" fill="#4874b8"/>
<polygon points="448.3,426.9 445.5,431.7 451.1,431.7" fill="#4874b8"/>
<polygon points="481.4,427.9 478.6,432.7 484.2,432.7" fill="#4874b8"/>
<polygon points="514.5,427.1 511.7,431.9 517.3,431.9" fill="#4874b8"/>
<circle cx="348.5" cy="429.3" r="3.2" fill="#6a5290"/>
<circle cx="381.7" cy="430.8" r="3.6" fill="#c02a3a"/>
<circle cx="381.7" cy="429.8" r="3.2" fill="#5b5e9e"/>
</svg>
</body></html>
